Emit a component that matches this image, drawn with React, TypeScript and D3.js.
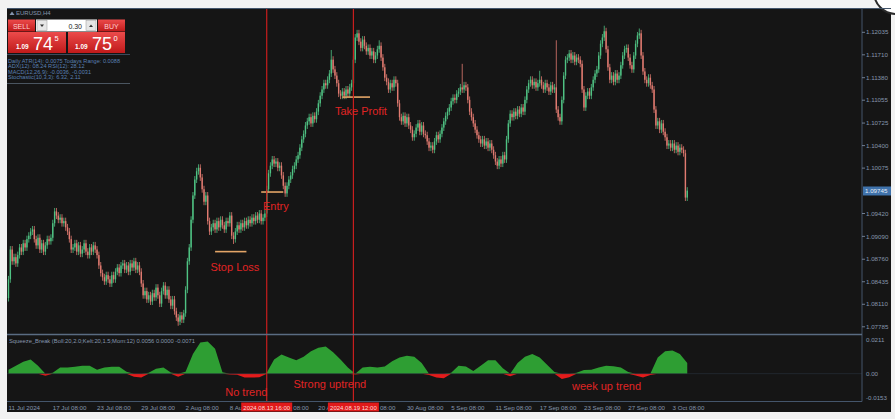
import React from 'react';
import * as d3 from 'd3';

// ---------- DATA ----------
const firstOpen = 1.0820;
const closes = [
  1.0847, 1.0890, 1.0873, 1.0879, 1.0870, 1.0882, 1.0893, 1.0887, 1.0899, 1.0893,
  1.0905, 1.0910, 1.0916, 1.0919, 1.0905, 1.0896, 1.0907, 1.0890, 1.0899, 1.0887,
  1.0896, 1.0905, 1.0902, 1.0907, 1.0928, 1.0945, 1.0939, 1.0933, 1.0936, 1.0928,
  1.0931, 1.0922, 1.0916, 1.0905, 1.0890, 1.0893, 1.0899, 1.0887, 1.0896, 1.0884,
  1.0890, 1.0899, 1.0887, 1.0882, 1.0893, 1.0887, 1.0896, 1.0890, 1.0882, 1.0867,
  1.0856, 1.0850, 1.0844, 1.0853, 1.0847, 1.0841, 1.0853, 1.0847, 1.0858, 1.0864,
  1.0856, 1.0867, 1.0870, 1.0861, 1.0867, 1.0858, 1.0870, 1.0864, 1.0873, 1.0861,
  1.0867, 1.0858, 1.0841, 1.0824, 1.0830, 1.0818, 1.0824, 1.0815, 1.0827, 1.0821,
  1.0835, 1.0824, 1.0812, 1.0830, 1.0838, 1.0824, 1.0832, 1.0818, 1.0809, 1.0818,
  1.0801, 1.0792, 1.0786, 1.0795, 1.0789, 1.0798, 1.0832, 1.0873, 1.0893, 1.0933,
  1.0968, 1.0991, 1.1003, 1.1008, 1.0994, 1.0977, 1.0959, 1.0968, 1.0931, 1.0916,
  1.0922, 1.0928, 1.0919, 1.0931, 1.0922, 1.0933, 1.0925, 1.0919, 1.0931, 1.0928,
  1.0939, 1.0910, 1.0905, 1.0916, 1.0925, 1.0919, 1.0928, 1.0922, 1.0931, 1.0925,
  1.0933, 1.0928, 1.0936, 1.0931, 1.0939, 1.0933, 1.0942, 1.0931, 1.0936, 1.0942,
  1.0977, 1.1000, 1.1011, 1.1020, 1.1014, 1.1017, 1.1008, 1.1011, 1.0997, 1.0982,
  1.0971, 1.0982, 1.0991, 1.0997, 1.1006, 1.1011, 1.1020, 1.1026, 1.1037, 1.1049,
  1.1057, 1.1069, 1.1075, 1.1081, 1.1072, 1.1083, 1.1078, 1.1089, 1.1101, 1.1112,
  1.1121, 1.1130, 1.1127, 1.1135, 1.1144, 1.1164, 1.1150, 1.1141, 1.1130, 1.1115,
  1.1112, 1.1118, 1.1112, 1.1121, 1.1115, 1.1124, 1.1130, 1.1164, 1.1196, 1.1202,
  1.1190, 1.1181, 1.1193, 1.1184, 1.1176, 1.1181, 1.1170, 1.1176, 1.1164, 1.1170,
  1.1179, 1.1184, 1.1167, 1.1153, 1.1138, 1.1132, 1.1121, 1.1130, 1.1124, 1.1135,
  1.1130, 1.1101, 1.1081, 1.1075, 1.1083, 1.1072, 1.1081, 1.1069, 1.1063, 1.1052,
  1.1057, 1.1066, 1.1072, 1.1060, 1.1069, 1.1057, 1.1055, 1.1046, 1.1037, 1.1040,
  1.1034, 1.1046, 1.1055, 1.1049, 1.1057, 1.1066, 1.1075, 1.1083, 1.1089, 1.1095,
  1.1104, 1.1109, 1.1106, 1.1115, 1.1118, 1.1124, 1.1121, 1.1127, 1.1124, 1.1106,
  1.1089, 1.1081, 1.1072, 1.1063, 1.1055, 1.1049, 1.1043, 1.1049, 1.1040, 1.1046,
  1.1037, 1.1043, 1.1034, 1.1026, 1.1017, 1.1011, 1.1020, 1.1014, 1.1026, 1.1020,
  1.1049, 1.1072, 1.1086, 1.1081, 1.1089, 1.1083, 1.1092, 1.1086, 1.1095, 1.1089,
  1.1106, 1.1121, 1.1130, 1.1135, 1.1127, 1.1132, 1.1124, 1.1130, 1.1135, 1.1127,
  1.1121, 1.1130, 1.1124, 1.1118, 1.1127, 1.1121, 1.1124, 1.1092, 1.1081, 1.1075,
  1.1106, 1.1141, 1.1164, 1.1167, 1.1173, 1.1164, 1.1170, 1.1161, 1.1167, 1.1164,
  1.1158, 1.1121, 1.1095, 1.1112, 1.1118, 1.1112, 1.1124, 1.1135, 1.1144, 1.1150,
  1.1170, 1.1187, 1.1196, 1.1205, 1.1179, 1.1153, 1.1135, 1.1141, 1.1132, 1.1144,
  1.1135, 1.1141, 1.1156, 1.1170, 1.1179, 1.1181, 1.1167, 1.1156, 1.1150, 1.1170,
  1.1187, 1.1199, 1.1202, 1.1170, 1.1147, 1.1135, 1.1130, 1.1138, 1.1127, 1.1121,
  1.1092, 1.1069, 1.1075, 1.1063, 1.1072, 1.1060, 1.1052, 1.1040, 1.1043, 1.1037,
  1.1043, 1.1034, 1.1040, 1.1031, 1.1037, 1.1034, 1.1029, 1.0965, 1.0975,
];
const wickSpikes = [
  { bar: 25, high: 1.0950 }, { bar: 92, low: 1.0780 }, { bar: 103, high: 1.1013 },
  { bar: 122, low: 1.0898 }, { bar: 175, high: 1.1178 }, { bar: 189, high: 1.1207 },
  { bar: 201, high: 1.1192 }, { bar: 246, high: 1.1158 }, { bar: 288, high: 1.1148 },
  { bar: 297, high: 1.1192 }, { bar: 323, high: 1.1213 }, { bar: 342, high: 1.1209 },
];
const priceTicks = [1.12035, 1.11710, 1.11380, 1.11055, 1.10725, 1.10400, 1.10075, 1.09420, 1.09090, 1.08760, 1.08435, 1.08110, 1.07785];
const lastPrice = 1.09745;
const timeLabels = ['11 Jul 2024', '17 Jul 08:00', '23 Jul 08:00', '29 Jul 08:00', '2 Aug 08:00', '8 Aug 08:00', '14 Aug 08:00', '20 Aug 08:00', '26 Aug 08:00', '30 Aug 08:00', '5 Sep 08:00', '11 Sep 08:00', '17 Sep 08:00', '23 Sep 08:00', '27 Sep 08:00', '3 Oct 08:00'];
const timeLabelStep = 24;
const crosshairBars = [140, 187];
const crosshairLabels = ['2024.08.13 16:00', '2024.08.19 12:00'];
// squeeze momentum, one sample every 4 bars
const squeezeStep = 4;
const squeeze = [
  0.0022, 0.0045, 0.0067, 0.0079, 0.0045, -0.0011, 0.0005, 0.0034, 0.0034, 0.0039,
  0.0045, 0.0045, 0.0022, 0.0034, 0.0039, 0.0039, 0.0011, -0.0017, -0.0022, 0.0005,
  0.0028, 0.0034, 0.0006, -0.0017, 0.0011, 0.0110, 0.0174, 0.0180, 0.0140, 0.0008,
  -0.0005, -0.0006, -0.0022, -0.0022, -0.0020, 0.0005, 0.0080, 0.0107, 0.0090, 0.0075,
  0.0095, 0.0125, 0.0145, 0.0152, 0.0120, 0.0080, 0.0035, -0.0004, 0.0034, 0.0039,
  0.0034, 0.0040, 0.0070, 0.0090, 0.0100, 0.0095, 0.0060, -0.0008, -0.0022, -0.0025,
  0.0005, 0.0045, 0.0040, 0.0015, 0.0045, 0.0075, 0.0075, 0.0030, -0.0015, 0.0060,
  0.0095, 0.0110, 0.0090, 0.0050, 0.0010, -0.0030, -0.0020, 0.0005, 0.0020, 0.0022,
  0.0035, 0.0045, 0.0042, 0.0035, 0.0010, -0.0010, -0.0022, -0.0008, 0.0090, 0.0125,
  0.0130, 0.0110, 0.0060,
];
const squeezeTicks = ['0.0211', '0.00', '-0.0153'];
const squeezeTickValues = [0.0211, 0, -0.0153];
const levels = [
  { name: 'Stop Loss', price: 1.0887, from: 112, to: 129 },
  { name: 'Entry', price: 1.0973, from: 137, to: 149 },
  { name: 'Take Profit', price: 1.1110, from: 181, to: 196 },
];
const priceNotes = [
  { text: 'Stop Loss', bar: 109.5, price: 1.0859 },
  { text: 'Entry', bar: 138, price: 1.0947 },
  { text: 'Take Profit', bar: 177, price: 1.1084 },
];
const squeezeNotes = [
  { text: 'No trend', bar: 117.5, value: -0.0125 },
  { text: 'Strong uptrend', bar: 154.5, value: -0.0080 },
  { text: 'week up trend', bar: 305.5, value: -0.0091 },
];
const infoLines = [
  'Daily ATR(14): 0.0075 Todays Range: 0.0088',
  'ADX(12): 08.24 RSI(12): 28.12',
  'MACD(12,26,9): -0.0036, -0.0031',
  'Stochastic(10,3,3): 6.32, 2.11',
];

// ---------- STYLE ----------
const BG = '#151515';
const AXIS = '#44556b';
const TXT = '#8595ad';
const BULL = '#4fc283';
const BEAR = '#e07a70';
const WICK = 0.0005;
const FONT = 'Liberation Sans, Arial, sans-serif';

export default function App() {
  const W = 895, H = 419;
  const x = d3.scaleLinear().domain([0, 360]).range([8.5, 672.5]);
  const y = d3.scaleLinear().domain([1.07785, 1.12035]).range([326.8, 32.3]);
  const yi = d3.scaleLinear().domain([-0.0153, 0.0211]).range([401, 336]);

  const spikeMap = new Map(wickSpikes.map((s) => [s.bar, s]));
  const candles = closes.map((c, i) => {
    const o = i === 0 ? firstOpen : closes[i - 1];
    const s: any = spikeMap.get(i) || {};
    const hi = s.high ?? Math.max(o, c) + WICK;
    const lo = s.low ?? Math.min(o, c) - WICK;
    return { i, o, c, hi, lo, bull: c >= o };
  });

  const sq = squeeze.map((v, k) => ({ b: k * squeezeStep, v }));
  const posArea = d3.area<any>().x((d) => x(d.b)).y0(yi(0)).y1((d) => yi(Math.max(0, d.v)))(sq) || '';
  const negArea = d3.area<any>().x((d) => x(d.b)).y0(yi(0)).y1((d) => yi(Math.min(0, d.v)))(sq) || '';

  const boxes = crosshairBars.map((b) => [x(b) - 25.5, x(b) + 25.5]);
  const CW = 3.0;

  return (
    <svg width={W} height={H} style={{ position: 'absolute', left: 0, top: 0, fontFamily: FONT }}>
      <defs>
        <linearGradient id="redg" x1="0" y1="0" x2="0" y2="1">
          <stop offset="0" stopColor="#ec4b4b" />
          <stop offset="1" stopColor="#c01a1a" />
        </linearGradient>
        <clipPath id="mainClip"><rect x={7} y={9} width={855} height={325} /></clipPath>
        <clipPath id="indClip"><rect x={7} y={336} width={855} height={65} /></clipPath>
      </defs>
      <rect x={0} y={0} width={W} height={H} fill="#f2f2f2" />
      <rect x={7} y={8} width={884} height={404} fill={BG} />
      <circle cx={896} cy={-8} r={22} fill="#ffffff" stroke="#2a2a2a" strokeWidth={2} />

      {/* candles */}
      <g clipPath="url(#mainClip)">
        {candles.map((d) => {
          const cx = x(d.i);
          const top = y(Math.max(d.o, d.c));
          const bot = y(Math.min(d.o, d.c));
          const col = d.bull ? BULL : BEAR;
          return (
            <g key={d.i}>
              <line x1={cx} x2={cx} y1={y(d.hi)} y2={y(d.lo)} stroke={col} strokeWidth={0.8} />
              <rect x={cx - 0.7} y={top} width={1.4} height={Math.max(0.8, bot - top)} fill={col} />
            </g>
          );
        })}
        {levels.map((l) => (
          <line key={l.name} x1={x(l.from)} x2={x(l.to)} y1={y(l.price)} y2={y(l.price)} stroke="#e3a567" strokeWidth={1.6} />
        ))}
      </g>

      {/* indicator */}
      <g clipPath="url(#indClip)">
        <path d={posArea} fill="#2e9e33" />
        <path d={negArea} fill="#e41b1b" />
        <line x1={7} x2={862} y1={yi(0)} y2={yi(0)} stroke="#2a3440" strokeWidth={0.6} />
      </g>
      <text x={9} y={342.5} fill={TXT} fontSize={5.8}>Squeeze_Break (Boll:20,2.0;Kelt:20,1.5;Mom:12) 0.0056 0.0000 -0.0071</text>

      {/* crosshair verticals */}
      {crosshairBars.map((b) => (
        <rect key={b} x={x(b) - 0.6} y={8} width={1.2} height={393} fill="#c81e1e" />
      ))}

      {/* annotations */}
      {priceNotes.map((n) => (
        <text key={n.text} x={x(n.bar)} y={y(n.price)} fill="#e02424" fontSize={11}>{n.text}</text>
      ))}
      {squeezeNotes.map((n) => (
        <text key={n.text} x={x(n.bar)} y={yi(n.value)} fill="#e02424" fontSize={11}>{n.text}</text>
      ))}

      {/* frames */}
      <line x1={7} x2={891} y1={8.5} y2={8.5} stroke={AXIS} strokeWidth={1} />
      <line x1={862} x2={862} y1={8} y2={401.5} stroke={AXIS} strokeWidth={1} />
      <line x1={7} x2={862} y1={334.5} y2={334.5} stroke="#5a6c82" strokeWidth={1.6} />
      <line x1={7} x2={862} y1={401.5} y2={401.5} stroke={AXIS} strokeWidth={1} />

      {/* price axis */}
      {priceTicks.map((p) => (
        <g key={p}>
          <line x1={862} x2={865} y1={y(p)} y2={y(p)} stroke={TXT} strokeWidth={0.8} />
          <text x={866} y={y(p)} dy="0.35em" fill={TXT} fontSize={6.2}>{p.toFixed(5)}</text>
        </g>
      ))}
      <rect x={863} y={y(lastPrice) - 4.5} width={28} height={9} fill="#3f72ab" />
      <text x={865} y={y(lastPrice)} dy="0.35em" fill="#e8eef6" fontSize={6.2}>{lastPrice.toFixed(5)}</text>

      {/* indicator axis */}
      {squeezeTicks.map((t, k) => {
        const v = squeezeTickValues[k];
        const yy = k === 0 ? yi(v) + 3.5 : k === 2 ? yi(v) - 3.5 : yi(v);
        return <text key={t} x={866} y={yy} dy="0.35em" fill={TXT} fontSize={6.2}>{t}</text>;
      })}

      {/* time axis */}
      {timeLabels.map((t, k) => {
        const lx = x(k * timeLabelStep);
        const lw = t.length * CW;
        const hit = boxes.find(([a, b]) => lx < b && lx + lw > a);
        if (hit) {
          const [a, b] = hit;
          if (lx < a) {
            const keep = Math.max(1, Math.ceil((a - lx) / CW));
            return <text key={t} x={lx} y={409.5} fill={TXT} fontSize={6.2}>{t.slice(0, keep).trimEnd()}</text>;
          }
          const tail = t.slice(t.length - 5);
          return <text key={t} x={b + 1} y={409.5} fill={TXT} fontSize={6.2}>{tail}</text>;
        }
        return <text key={t} x={lx} y={409.5} fill={TXT} fontSize={6.2}>{t}</text>;
      })}
      {crosshairBars.map((b, k) => (
        <g key={b}>
          <rect x={x(b) - 25.5} y={402.5} width={51} height={9} fill="#e01a1a" />
          <text x={x(b)} y={409.5} textAnchor="middle" fill="#ffd8d8" fontSize={6}>{crosshairLabels[k]}</text>
        </g>
      ))}

      {/* top-left trade panel */}
      <path d="M9.5,15 L12,11.5 L14.5,15 Z" fill={TXT} />
      <text x={16} y={15} fill={TXT} fontSize={6}>EURUSD,H4</text>
      <rect x={8} y={19.5} width={27} height={12} fill="url(#redg)" />
      <text x={21.5} y={28.5} textAnchor="middle" fill="#ffd0d0" fontSize={7}>SELL</text>
      <rect x={36} y={19.5} width={61} height={12} fill="#ffffff" />
      <rect x={37} y={20.5} width={10} height={10} fill="#e6e6e6" stroke="#999" strokeWidth={0.5} />
      <path d="M40,24.5 L44,24.5 L42,27 Z" fill="#333" />
      <rect x={86} y={20.5} width={10} height={10} fill="#e6e6e6" stroke="#999" strokeWidth={0.5} />
      <path d="M89,27 L93,27 L91,24.5 Z" fill="#333" />
      <text x={82} y={28.5} textAnchor="end" fill="#222" fontSize={7}>0.30</text>
      <rect x={98} y={19.5} width={27} height={12} fill="url(#redg)" />
      <text x={111.5} y={28.5} textAnchor="middle" fill="#ffd0d0" fontSize={7}>BUY</text>

      <rect x={8} y={32} width={58} height={21} fill="url(#redg)" />
      <text x={16} y={49} fill="#ffffff" fontSize={6.5} fontWeight="bold">1.09</text>
      <text x={33} y={50} fill="#ffffff" fontSize={18}>74</text>
      <text x={54.5} y={41} fill="#ffffff" fontSize={7.5}>5</text>
      <rect x={68} y={32} width={57} height={21} fill="url(#redg)" />
      <text x={75} y={49} fill="#ffffff" fontSize={6.5} fontWeight="bold">1.09</text>
      <text x={92} y={50} fill="#ffffff" fontSize={18}>75</text>
      <text x={113.5} y={41} fill="#ffffff" fontSize={7.5}>0</text>
      <line x1={7} x2={130} y1={54.5} y2={54.5} stroke="#3c4a5c" strokeWidth={1} />
      {infoLines.map((t, k) => (
        <text key={t} x={8} y={63 + k * 5.3} fill="#5a80b4" fontSize={5.6}>{t}</text>
      ))}
      <line x1={7} x2={130} y1={83.5} y2={83.5} stroke="#4a5560" strokeWidth={1} />
    </svg>
  );
}
